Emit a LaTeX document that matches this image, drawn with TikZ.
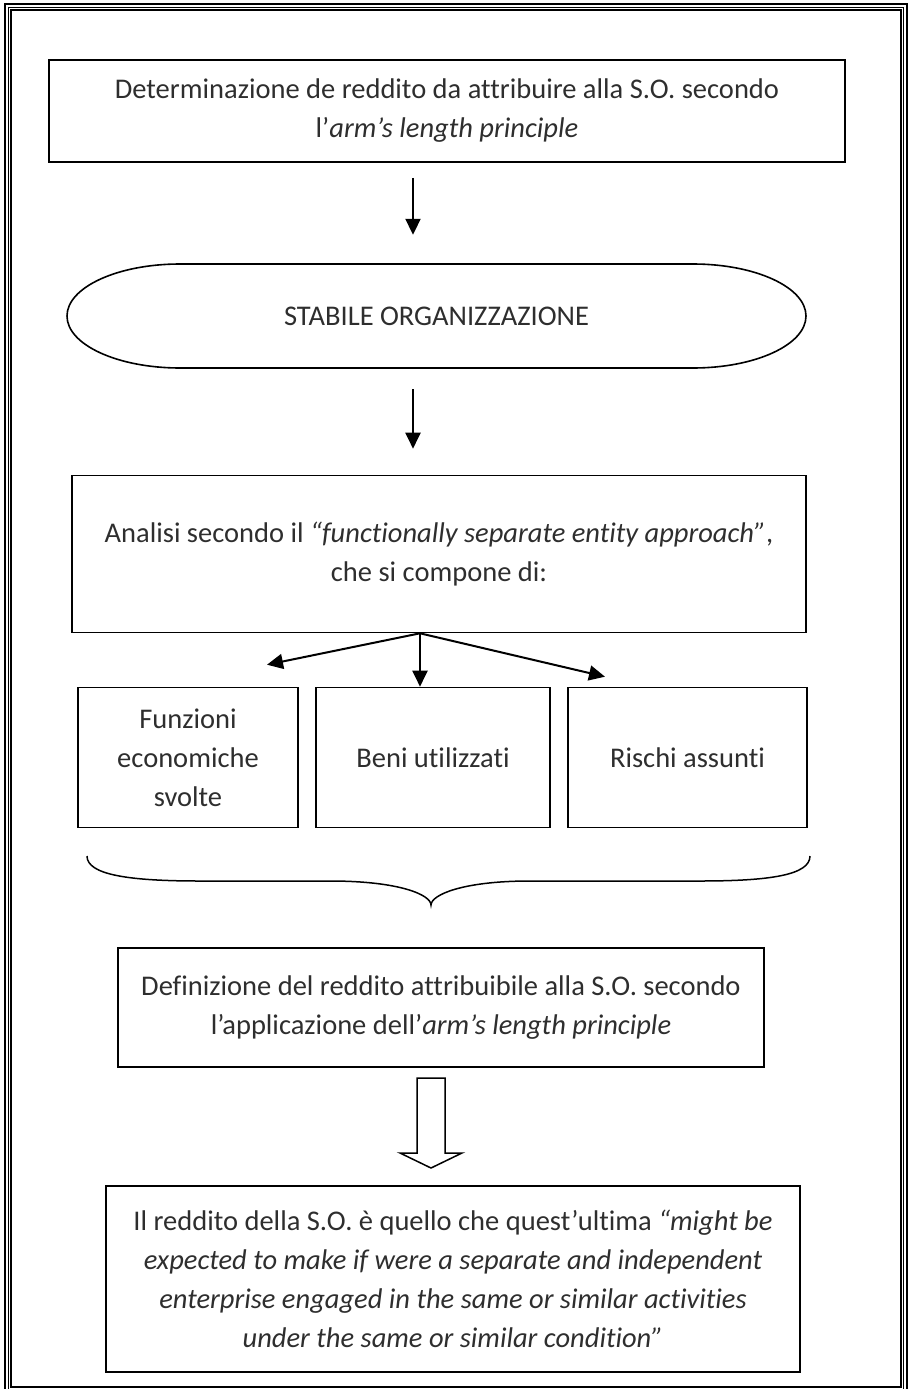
\documentclass[tikz,border=0pt]{standalone}
\usepackage{fontspec}
\setmainfont{Carlito}[Ligatures=NoCommon]
\usetikzlibrary{arrows.meta}

\begin{document}
\begin{tikzpicture}[x=1pt, y=-1pt, every node/.style={font=\fontsize{28.5}{39}\selectfont, text=black!82, align=center, inner sep=0pt}, box/.style={draw, line width=1.6pt, rectangle}, arr/.style={line width=2pt, -{Triangle[length=16pt, width=15pt]}}]
	\useasboundingbox (0,0) rectangle (910,1389);
	\clip (0,0) rectangle (910,1389);
	% page frame
	\draw[line width=2pt] (5,4.5) rectangle (906.5,1393);
	\draw[line width=1pt] (8.5,8) rectangle (903.5,1390);
	\draw[line width=2pt] (11,10.5) rectangle (901,1387);
	\node[box, minimum width=796pt, minimum height=102pt] (det) at (447,111) {Determinazione de reddito da attribuire alla S.O. secondo\\ l’\textit{arm’s length principle}};
	\node[minimum width=739pt, minimum height=104pt] (so) at (436.5,316) {STABILE ORGANIZZAZIONE};
	\draw[line width=1.6pt] (180,264) -- (693,264) arc[start angle=90, end angle=-90, x radius=113pt, y radius=52pt] -- (180,368) arc[start angle=270, end angle=90, x radius=113pt, y radius=52pt] -- cycle;
	\node[box, minimum width=734pt, minimum height=157pt] (ana) at (439,554) {Analisi secondo il \textit{“functionally separate entity approach”},\\ che si compone di:};
	\node[box, minimum width=220pt, minimum height=140pt] (fun) at (188,757.5) {Funzioni\\ economiche\\ svolte};
	\node[box, minimum width=234pt, minimum height=140pt] (ben) at (433,757.5) {Beni utilizzati};
	\node[box, minimum width=239pt, minimum height=140pt] (ris) at (687.5,757.5) {Rischi assunti};
	\node[box, minimum width=646pt, minimum height=119pt] (def) at (441,1007.5) {Definizione del reddito attribuibile alla S.O. secondo\\ l’applicazione dell’\textit{arm’s length principle}};
	\node[box, minimum width=694pt, minimum height=186pt] (red) at (453,1279) {Il reddito della S.O. è quello che quest’ultima \textit{“might be}\\ \textit{expected to make if were a separate and independent}\\ \textit{enterprise engaged in the same or similar activities}\\ \textit{under the same or similar condition”}};
	\draw[arr] ([xshift=-34pt, yshift=-15pt]det.south) -- ([xshift=-23.5pt, yshift=29pt]so.north);
	\draw[arr] ([xshift=-23.5pt, yshift=-21pt]so.south) -- ([xshift=-26pt, yshift=26pt]ana.north);
	\coordinate (fan) at ([xshift=-19pt]ana.south);
	\foreach \n/\dx/\dy in {fun/79/22, ben/-13/0, ris/-82.5/10} {\draw[arr] (fan) -- ([xshift=\dx pt, yshift=\dy pt]\n.north);}
	% brace under the three boxes
	\draw[line width=1.5pt] (87,856) .. controls (87,875) and (130,881) .. (200,881) -- (330,881) .. controls (400,881) and (431,895) .. (431,905) .. controls (431,895) and (462,881) .. (530,881) -- (700,881) .. controls (770,881) and (810,875) .. (810,856);
	% hollow arrow
	\draw[line width=1.5pt, line join=miter] (417,1078) -- (445,1078) -- (445,1153) -- (462,1153) -- (431,1168) -- (400,1153) -- (417,1153) -- cycle;
\end{tikzpicture}
\end{document}
